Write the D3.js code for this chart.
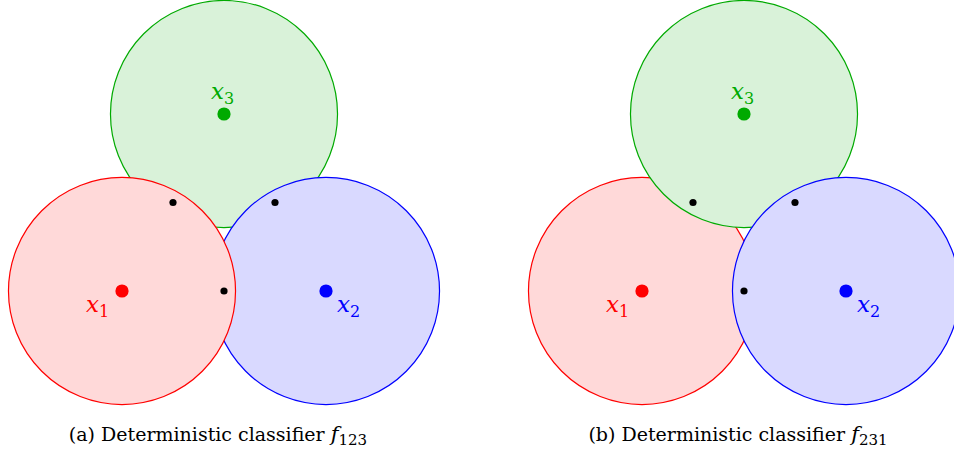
<!DOCTYPE html>
<html>
<head>
<meta charset="utf-8">
<script src="https://cdn.jsdelivr.net/npm/d3@7"></script>
<style>
  html, body { margin: 0; padding: 0; background: #fff; }
  svg { display: block; }
</style>
</head>
<body>
<svg id="chart"></svg>
<script>
  // data: three training points on a triangle, radius of each ball
  var pointNames = ['x', 'x', 'x'];
  var pointSubs = ['1', '2', '3'];
  var pointX = [0, 2, 1];
  var pointY = [0, 0, 1.735];
  var ballRadius = 1.113;
  // the black boundary points
  var midX = [0.5, 1.5, 1];
  var midY = [0.8675, 0.8675, 0];
  // the two panels and which ball wins (draw order bottom -> top)
  var panelLabels = ['(a) Deterministic classifier ', '(b) Deterministic classifier '];
  var panelSubs = ['123', '231'];
  var drawOrders = [[2, 1, 0], [0, 2, 1]];

  var strokeColors = ['#ff0000', '#0000ff', '#00aa00'];
  var fillColors = ['#ffd9d9', '#d9d9ff', '#d9f2d9'];
  var serif = "'DejaVu Serif', serif";

  var width = 954, height = 453;
  var svg = d3.select('#chart').attr('width', width).attr('height', height);

  panelLabels.forEach(function(label, p) {
    var offset = p * 520;
    var x = d3.scaleLinear().domain([0, 2]).range([122 + offset, 326 + offset]);
    var y = d3.scaleLinear().domain([0, 1.735]).range([291, 114]);
    var k = x(1) - x(0);
    var g = svg.append('g').attr('class', 'panel');

    g.selectAll('circle.ball').data(drawOrders[p]).enter().append('circle')
      .attr('class', 'ball')
      .attr('cx', function(i) { return x(pointX[i]); })
      .attr('cy', function(i) { return y(pointY[i]); })
      .attr('r', ballRadius * k)
      .attr('fill', function(i) { return fillColors[i]; })
      .attr('stroke', function(i) { return strokeColors[i]; })
      .attr('stroke-width', 1.2);

    g.selectAll('circle.mid').data(midX).enter().append('circle')
      .attr('class', 'mid')
      .attr('cx', function(d) { return x(d); })
      .attr('cy', function(d, i) { return y(midY[i]); })
      .attr('r', 3.6)
      .attr('fill', '#000');

    g.selectAll('circle.center').data(pointX).enter().append('circle')
      .attr('class', 'center')
      .attr('cx', function(d) { return x(d); })
      .attr('cy', function(d, i) { return y(pointY[i]); })
      .attr('r', 6.6)
      .attr('fill', function(d, i) { return strokeColors[i]; });

    // point labels: x1 lower-left, x2 lower-right, x3 above
    var labelDx = [-36, 11, -13];
    var labelDy = [21, 21, -15];
    var labels = g.selectAll('text.pt').data(pointNames).enter().append('text')
      .attr('class', 'pt')
      .attr('x', function(d, i) { return x(pointX[i]) + labelDx[i]; })
      .attr('y', function(d, i) { return y(pointY[i]) + labelDy[i]; })
      .attr('fill', function(d, i) { return strokeColors[i]; })
      .style('font-family', serif)
      .style('font-size', '23px');
    labels.append('tspan').style('font-style', 'italic').text(function(d) { return d; });
    labels.append('tspan').attr('dy', 5).style('font-size', '16px')
      .text(function(d, i) { return pointSubs[i]; });

    var cap = g.append('text')
      .attr('x', 218 + offset)
      .attr('y', 441)
      .attr('text-anchor', 'middle')
      .attr('fill', '#000')
      .style('font-family', serif)
      .style('font-size', '19px');
    cap.append('tspan').text(label);
    cap.append('tspan').style('font-style', 'italic').style('font-size', '21px').text('f');
    cap.append('tspan').attr('dy', 4).style('font-size', '15px').text(panelSubs[p]);
  });
</script>
</body>
</html>
